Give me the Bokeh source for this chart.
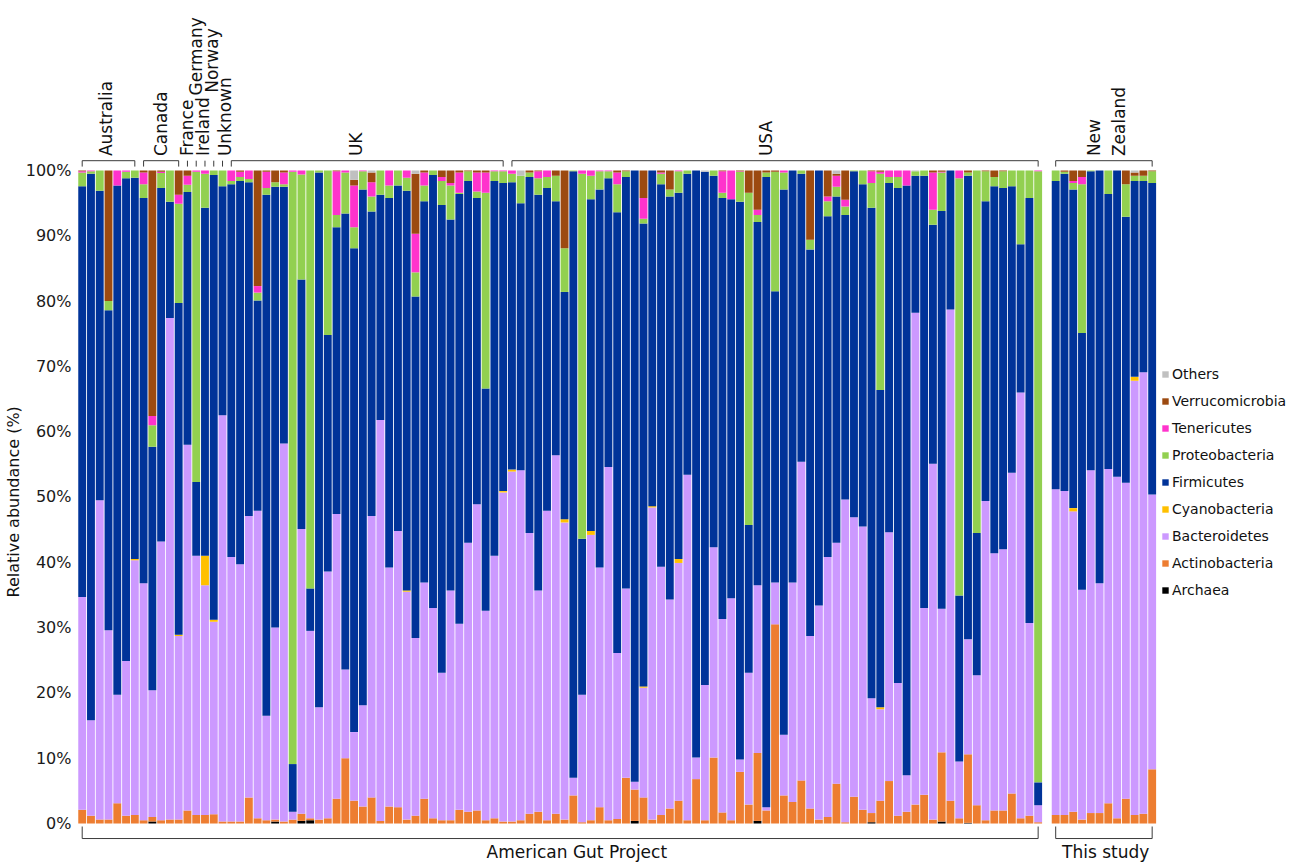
import math
from bokeh.plotting import figure
from bokeh.models import (ColumnDataSource, Range1d, FixedTicker, PrintfTickFormatter,
                          Legend, LegendItem, Title)
from bokeh.core.properties import value
from bokeh.embed import file_html
from bokeh.resources import INLINE

# ---------------- data (relative abundance, %) ----------------
# 110 American Gut Project samples followed by 12 samples of "This study"
archaea = [0, 0, 0, 0, 0, 0, 0, 0, 0.3, 0,
           0, 0, 0, 0, 0, 0, 0, 0, 0, 0,
           0, 0, 0.3, 0, 0, 0.4, 0.5, 0, 0, 0,
           0, 0, 0, 0, 0, 0, 0, 0, 0, 0,
           0, 0, 0, 0, 0, 0, 0, 0, 0, 0,
           0, 0, 0, 0, 0, 0, 0, 0, 0, 0,
           0, 0, 0, 0.4, 0, 0, 0, 0, 0, 0,
           0, 0, 0, 0, 0, 0, 0, 0.4, 0, 0,
           0, 0, 0, 0, 0, 0, 0, 0, 0, 0,
           0.2, 0, 0, 0, 0, 0, 0, 0, 0.3, 0,
           0, 0.1, 0, 0, 0, 0, 0, 0, 0, 0,
           0, 0, 0, 0, 0, 0, 0, 0, 0, 0, 0, 0]
actinobacteria = [2.1, 1.2, 0.6, 0.6, 3.1, 1.2, 1.3, 0.5, 0.7, 0.5,
                  0.6, 0.6, 2.0, 1.3, 1.3, 1.4, 0.3, 0.3, 0.3, 4.0,
                  0.8, 0.5, 0.3, 0.3, 0.6, 1.1, 0.3, 0.6, 0.8, 3.8,
                  10.0, 3.5, 2.6, 4.0, 0.4, 2.6, 2.5, 0.6, 1.2, 3.8,
                  0.8, 0.5, 0.5, 2.1, 1.8, 2.0, 0.5, 0.8, 0.3, 0.3,
                  0.5, 1.5, 1.8, 0.5, 1.5, 0.6, 4.3, 0.2, 0.5, 2.5,
                  0.5, 0.7, 7.0, 4.8, 4.0, 0.6, 1.3, 2.3, 3.5, 0.5,
                  6.8, 0.5, 10.1, 1.7, 0.5, 7.9, 2.9, 10.4, 2.0, 30.5,
                  4.3, 3.3, 6.6, 2.3, 0.6, 1.0, 6.1, 0.2, 4.1, 2.1,
                  1.4, 3.5, 6.5, 1.2, 1.8, 2.9, 4.4, 0.6, 10.6, 3.5,
                  0.8, 10.5, 2.8, 0.5, 2.0, 2.0, 4.6, 0.8, 1.2, 0.2,
                  1.3, 1.3, 1.8, 0.6, 1.6, 1.6, 3.1, 0.8, 3.8, 1.3, 1.5, 8.3]
bacteroidetes = [32.6, 14.6, 48.9, 29.0, 16.6, 23.7, 39.0, 36.3, 19.4, 42.7,
                 76.8, 28.1, 56.0, 39.7, 35.2, 29.5, 62.2, 40.5, 39.4, 43.1,
                 47.1, 16.0, 29.4, 57.9, 1.2, 43.6, 28.7, 17.2, 37.8, 43.6,
                 13.6, 10.5, 15.5, 43.1, 61.4, 36.6, 42.3, 34.9, 27.2, 33.1,
                 32.2, 22.6, 35.2, 28.5, 41.2, 46.9, 32.1, 40.2, 50.4, 53.6,
                 53.6, 43.0, 33.9, 47.4, 54.9, 45.5, 2.7, 19.5, 43.7, 36.7,
                 54.1, 25.4, 29.0, 1.2, 16.8, 47.8, 38.0, 32.0, 36.4, 52.9,
                 3.3, 20.7, 32.2, 29.6, 34.0, 1.9, 20.2, 25.7, 0.5, 6.4,
                 9.3, 33.6, 48.8, 26.4, 32.8, 39.8, 36.9, 49.4, 42.8, 43.4,
                 17.6, 14.0, 38.1, 20.3, 5.6, 75.3, 28.6, 54.5, 22.0, 75.2,
                 8.7, 17.6, 19.9, 48.9, 39.4, 40.0, 49.1, 65.2, 29.5, 2.6,
                 49.9, 49.6, 46.0, 35.2, 52.5, 35.2, 51.2, 52.3, 48.4, 66.5, 67.6, 42.1]
cyanobacteria = [0, 0, 0, 0, 0, 0, 0.2, 0, 0, 0,
                 0, 0.2, 0, 0, 4.5, 0.3, 0, 0, 0, 0,
                 0, 0, 0, 0, 0, 0, 0, 0, 0, 0,
                 0, 0, 0, 0, 0, 0, 0, 0.2, 0, 0,
                 0, 0, 0, 0, 0, 0, 0, 0, 0.2, 0.3,
                 0, 0, 0, 0, 0, 0.5, 0, 0, 0.6, 0,
                 0, 0, 0, 0, 0.2, 0.2, 0, 0, 0.6, 0,
                 0, 0, 0, 0, 0, 0, 0, 0, 0, 0,
                 0, 0, 0, 0, 0, 0, 0, 0, 0, 0,
                 0, 0.3, 0, 0, 0, 0, 0, 0, 0, 0,
                 0, 0, 0, 0, 0, 0, 0, 0, 0, 0,
                 0, 0, 0.5, 0, 0, 0, 0, 0, 0, 0.6, 0, 0]
firmicutes = [62.9, 83.7, 47.4, 49.0, 78.0, 73.9, 58.4, 59.0, 37.3, 54.1,
              17.8, 50.8, 38.7, 11.3, 53.3, 68.1, 35.1, 57.1, 58.7, 51.1,
              32.2, 79.8, 67.5, 39.3, 7.3, 38.2, 6.5, 81.9, 36.2, 43.9,
              69.8, 74.1, 79.0, 46.6, 34.5, 56.6, 52.9, 61.2, 52.3, 58.4,
              66.3, 71.6, 56.8, 65.8, 55.4, 46.9, 34.0, 57.4, 47.2, 44.0,
              40.9, 54.5, 60.6, 49.4, 38.9, 34.8, 92.9, 23.9, 50.8, 57.9,
              44.2, 67.5, 63.0, 93.6, 70.9, 51.4, 58.6, 61.7, 56.1, 46.1,
              89.9, 78.6, 56.9, 64.5, 61.1, 85.4, 22.6, 55.6, 96.5, 44.6,
              83.5, 63.1, 44.1, 59.2, 66.6, 52.2, 53.0, 43.6, 53.0, 52.4,
              75.1, 48.6, 53.5, 75.8, 90.3, 21.0, 66.2, 36.6, 60.9, 21.3,
              25.4, 71.0, 21.8, 45.9, 56.2, 55.3, 43.9, 22.7, 65.1, 3.5,
              47.2, 48.6, 48.8, 39.3, 45.8, 63.2, 42.1, 46.9, 40.7, 30.0, 29.3, 47.7]
proteobacteria = [2.1, 0.4, 3.1, 1.4, 0, 1.0, 1.1, 2.1, 3.3, 2.3,
                  4.8, 15.2, 1.1, 47.5, 5.2, 0.7, 2.4, 0.5, 0.6, 0.5,
                  1.2, 1.0, 0.7, 0.4, 90.7, 16.1, 64.0, 0.3, 25.2, 1.9,
                  6.3, 3.2, 2.8, 2.3, 3.7, 1.9, 2.3, 2.0, 3.7, 2.4,
                  0.7, 3.7, 5.2, 0.2, 1.5, 1.0, 30.0, 1.5, 1.8, 1.3,
                  4.2, 0.7, 2.5, 1.7, 3.9, 6.7, 0.1, 55.9, 3.6, 2.8,
                  1.1, 4.3, 0.9, 0, 0.7, 0, 1.6, 1.1, 3.3, 0.5,
                  0, 0, 0.8, 0.8, 0, 4.6, 50.9, 1.1, 0.7, 18.3,
                  2.6, 0, 0.5, 1.5, 0, 2.3, 1.5, 1.3, 0.1, 2.1,
                  3.8, 33.1, 0.9, 1.7, 0, 0.7, 0.8, 2.3, 5.9, 0,
                  63.9, 0.5, 55.5, 4.6, 1.4, 2.6, 2.4, 11.3, 4.2, 93.6,
                  1.6, 0.3, 1.0, 22.8, 0.1, 0, 3.6, 0, 5.0, 0.8, 0.8, 1.8]
tenericutes = [0.2, 0.1, 0, 0, 2.3, 0.2, 0, 1.8, 1.4, 0.2,
               0, 1.4, 1.4, 0.2, 0.5, 0, 0, 1.6, 0.8, 1.3,
               1.0, 2.5, 0, 1.8, 0.2, 0.6, 0, 0, 0, 6.7,
               0.3, 6.4, 0.1, 2.2, 0, 2.3, 0, 1.1, 5.9, 2.0,
               0, 0.6, 0.4, 3.1, 0, 2.9, 3.1, 0.1, 0.1, 0.5,
               0, 0, 1.1, 1.0, 0, 0, 0, 0.5, 0.8, 0.1,
               0.1, 1.8, 0, 0, 3.2, 0, 0.2, 0, 0.1, 0,
               0, 0, 0, 3.3, 4.4, 0.1, 0, 0.8, 0, 0,
               0.3, 0, 0, 0, 0, 0.7, 1.7, 1.0, 0, 0,
               1.8, 0.3, 1.0, 1.0, 2.3, 0, 0, 5.7, 0.1, 0,
               1.2, 0, 0, 0, 0, 0, 0, 0, 0, 0.1,
               0, 0, 0.3, 1.1, 0, 0, 0, 0, 0, 0, 0, 0]
verrucomicrobia = [0.1, 0, 0, 20.0, 0, 0, 0, 0.3, 37.6, 0.2,
                   0, 3.7, 0.8, 0, 0, 0, 0, 0, 0.2, 0,
                   17.7, 0.2, 1.8, 0.3, 0, 0, 0, 0, 0, 0.1,
                   0, 0.9, 0, 1.5, 0, 0, 0, 0, 9.2, 0.3,
                   0, 1.0, 1.9, 0.3, 0.1, 0.3, 0.3, 0, 0, 0,
                   0, 0.3, 0.1, 0, 0.8, 11.9, 0, 0, 0, 0,
                   0, 0.3, 0.1, 0, 4.2, 0, 0.3, 2.9, 0, 0,
                   0, 0, 0, 0.1, 0, 0.1, 3.4, 6.0, 0.3, 0.2,
                   0, 0, 0, 10.6, 0, 4.0, 0.3, 4.5, 0, 0,
                   0.1, 0.2, 0, 0, 0, 0, 0, 0.3, 0.2, 0,
                   0, 0.3, 0, 0.1, 1.0, 0.1, 0, 0, 0, 0,
                   0, 0.2, 1.6, 1.0, 0, 0, 0, 0, 2.1, 0.5, 0.8, 0.1]
others = [0, 0, 0, 0, 0, 0, 0, 0, 0, 0,
          0, 0, 0, 0, 0, 0, 0, 0, 0, 0,
          0, 0, 0, 0, 0, 0, 0, 0, 0, 0,
          0, 1.4, 0, 0.3, 0, 0, 0, 0, 0.5, 0,
          0, 0, 0, 0, 0, 0, 0, 0, 0, 0,
          0.8, 0, 0, 0, 0, 0, 0, 0, 0, 0,
          0, 0, 0, 0, 0, 0, 0, 0, 0, 0,
          0, 0.2, 0, 0, 0, 0, 0, 0, 0, 0,
          0, 0, 0, 0, 0, 0, 0.5, 0, 0, 0,
          0, 0, 0, 0, 0, 0.1, 0, 0, 0, 0,
          0, 0, 0, 0, 0, 0, 0, 0, 0, 0,
          0, 0, 0, 0, 0, 0, 0, 0, 0, 0.3, 0, 0]

phyla = ["Archaea", "Actinobacteria", "Bacteroidetes", "Cyanobacteria", "Firmicutes",
         "Proteobacteria", "Tenericutes", "Verrucomicrobia", "Others"]
phylum_colors = ["#000000", "#ED7D31", "#CC99FF", "#FFC000", "#003399",
                 "#92D050", "#FF33CC", "#9C4A10", "#C0C0C0"]

# sample slots: 110 AGP samples, one empty slot, 12 samples of this study
n_agp = 110
n_this = 12
slot = list(range(n_agp)) + list(range(n_agp + 1, n_agp + 1 + n_this))

# country groups (first / last sample slot)
country = ["Australia", "Canada", "France", "Germany", "Ireland", "Norway",
           "Unknown", "UK", "USA", "New Zealand"]
country_first = [0, 7, 12, 13, 14, 15, 16, 17, 49, 111]
country_last = [6, 11, 12, 13, 14, 15, 16, 48, 109, 122]

study = ["American Gut Project", "This study"]
study_first = [0, 111]
study_last = [109, 122]

# ---------------- figure ----------------
FONT = "DejaVu Sans"
p = figure(width=1304, height=862,
           x_range=Range1d(-0.65, 139.37), y_range=Range1d(-5.97, 126.03),
           output_backend="svg", toolbar_location=None, x_axis_location=None,
           min_border_left=76, min_border_right=0, min_border_top=0, min_border_bottom=0)
p.outline_line_color = None
p.xgrid.visible = False
p.ygrid.visible = False
p.background_fill_color = "white"

yax = p.yaxis[0]
yax.ticker = FixedTicker(ticks=list(range(0, 101, 10)))
yax.formatter = PrintfTickFormatter(format="%d%%")
yax.axis_line_color = None
yax.major_tick_line_color = None
yax.minor_tick_line_color = None
yax.major_tick_out = 0
yax.major_tick_in = 0
yax.minor_tick_out = 0
yax.minor_tick_in = 0
yax.major_label_standoff = 5
yax.major_label_text_font = FONT
yax.major_label_text_font_size = "16px"
yax.major_label_text_color = "#1a1a1a"

# y axis title, placed at the middle of the 0-100 % span
p.add_layout(Title(text="Relative abundance (%)", align="left", offset=265, standoff=0,
                   text_font=FONT, text_font_size="16px", text_font_style="normal",
                   text_color="#111111"), "left")

source = ColumnDataSource(dict(
    x=slot, Archaea=archaea, Actinobacteria=actinobacteria, Bacteroidetes=bacteroidetes,
    Cyanobacteria=cyanobacteria, Firmicutes=firmicutes, Proteobacteria=proteobacteria,
    Tenericutes=tenericutes, Verrucomicrobia=verrucomicrobia, Others=others))

renderers = p.vbar_stack(phyla, x="x", width=0.9, fill_color=phylum_colors,
                         line_color=None, source=source)

# ---------------- brackets (top: countries, bottom: studies) ----------------
bx0, by0, bx1, by1 = [], [], [], []
top_line, top_tick = 101.5, 100.6
for a, b in zip(country_first, country_last):
    if b > a:
        bx0.append(a); by0.append(top_line); bx1.append(b); by1.append(top_line)
        bx0.append(b); by0.append(top_line); bx1.append(b); by1.append(top_tick)
    bx0.append(a); by0.append(top_line); bx1.append(a); by1.append(top_tick)
bot_line, bot_tick = -2.3, -0.46
for a, b in zip(study_first, study_last):
    bx0 += [a, a, b]; by0 += [bot_line, bot_line, bot_line]
    bx1 += [b, a, b]; by1 += [bot_line, bot_tick, bot_tick]
p.segment(x0=bx0, y0=by0, x1=bx1, y1=by1, line_color="#3a3a3a", line_width=1)

# country labels (rotated)
label_dx = [-0.3, 0.0, 0.0, 0.0, -0.2, -0.2, 0.3, -1.3, -1.0]
label_y = [102.2, 102.2, 102.2, 111.5, 102.2, 111.9, 102.2, 102.2, 102.2]
lx, ly, lt = [], [], []
for name, a, b, dx, yy in zip(country[:-1], country_first, country_last, label_dx, label_y):
    lx.append((a + b) / 2 + dx); ly.append(yy); lt.append(name)
nz_mid = (country_first[-1] + country_last[-1]) / 2
for word, dx in zip(country[-1].split(" "), [-1.1, 1.7]):
    lx.append(nz_mid + dx); ly.append(102.2); lt.append(word)
p.text(x=lx, y=ly, text=lt, angle=math.pi / 2, text_align="left", text_baseline="middle",
       text_font=value(FONT), text_font_size="17px", text_color="#111111")

# study labels
sx = [(a + b) / 2 + dx for a, b, dx in zip(study_first, study_last, [1.9, 0.2])]
p.text(x=sx, y=[-4.3, -4.3], text=study, text_align="center", text_baseline="middle",
       text_font=value(FONT), text_font_size="17px", text_color="#111111")

# ---------------- legend ----------------
items = [LegendItem(label=name, renderers=[r]) for name, r in zip(phyla, renderers)][::-1]
legend = Legend(items=items, location=(1085, 262), glyph_width=8, glyph_height=8,
                label_standoff=3, label_height=20, spacing=7, padding=0, margin=0,
                border_line_color=None, background_fill_alpha=0,
                label_text_font=FONT, label_text_font_size="14px", label_text_color="#111111")
p.add_layout(legend)

open("out.html", "w").write(file_html(p, INLINE))
